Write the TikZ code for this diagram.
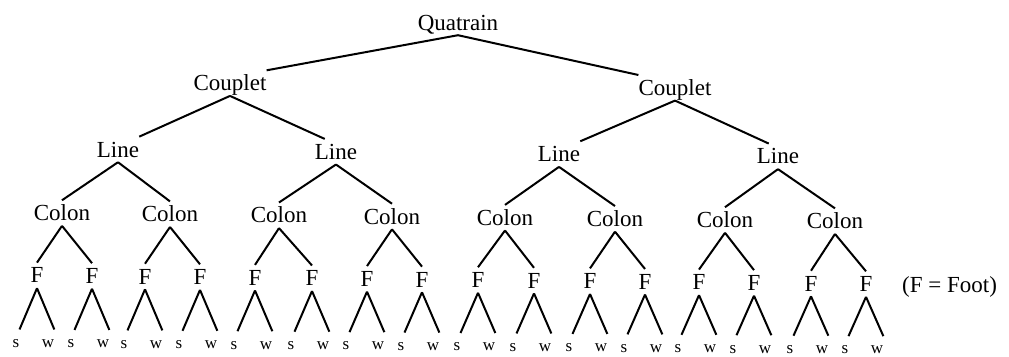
\documentclass[tikz,border=0pt]{standalone}
\usepackage{fontspec}
\setmainfont{Liberation Serif}
\begin{document}
\begin{tikzpicture}[x=1pt,y=-1pt,
  lbl/.style={anchor=base, inner xsep=0pt, inner ysep=5pt,
    text height=15.2pt, text depth=0pt, font=\fontsize{23}{27}\selectfont},
  leaf/.style={anchor=base, inner xsep=0pt, inner ysep=10pt,
    text height=7.6pt, text depth=0pt, font=\fontsize{17}{20}\selectfont},
  edge/.style={line width=2pt}]
\useasboundingbox (0,0) rectangle (1009,356);
% slight slope of the baselines across the page
\def\tl{0.0105}
% upper levels
\node[lbl] (q)  at (458, 25.2+\tl*458) {Quatrain};
\node[lbl] (c1) at (230, 88.3+\tl*230) {Couplet};
\node[lbl] (c2) at (675, 88.3+\tl*675) {Couplet};
\node[lbl] (l1) at (118, 155.8+\tl*118) {Line};
\node[lbl] (l2) at (336, 155.8+\tl*336) {Line};
\node[lbl] (l3) at (559, 155.8+\tl*559) {Line};
\node[lbl] (l4) at (778, 155.8+\tl*778) {Line};
% colons
\foreach \x [count=\i] in {62,170,279,392,505,615,725,835}
  \node[lbl] (k\i) at (\x, 220+\tl*\x) {Colon};
% feet with their strong and weak positions
\foreach \x [count=\i] in {37,92,145,200,255,312,367,422,478,534,590,645,699,754,811,866} {
  \node[lbl] (f\i) at (\x, 282.6+\tl*\x) {F};
  \node[leaf] (s\i) at (\x-21, 347+0.008*\x) {s};
  \node[leaf] (w\i) at (\x+11, 347+0.008*\x) {w};
}
\node[lbl, anchor=base west] (note) at (902, 283+\tl*902) {(F = Foot)};
% branches
\draw[edge] (q.south) -- (c1.north east);
\draw[edge] (q.south) -- (c2.north west);
\draw[edge] (c1.south) -- (l1.north east);
\draw[edge] (c1.south) -- ([xshift=10pt]l2.north west);
\draw[edge] (c2.south) -- (l3.north east);
\draw[edge] (c2.south) -- ([xshift=12pt]l4.north west);
\foreach \i [evaluate=\i as \a using int(2*\i-1), evaluate=\i as \b using int(2*\i)] in {1,...,4} {
  \draw[edge] (l\i.south) -- (k\a.north);
  \draw[edge] (l\i.south) -- (k\b.north);
}
\foreach \i [evaluate=\i as \a using int(2*\i-1), evaluate=\i as \b using int(2*\i)] in {1,...,8} {
  \draw[edge] (k\i.south) -- (f\a.north);
  \draw[edge] (k\i.south) -- (f\b.north);
}
\foreach \i in {1,...,16} {
  \draw[edge] (f\i.south) -- (s\i.north east);
  \draw[edge] (f\i.south) -- (w\i.north east);
}
\end{tikzpicture}
\end{document}
